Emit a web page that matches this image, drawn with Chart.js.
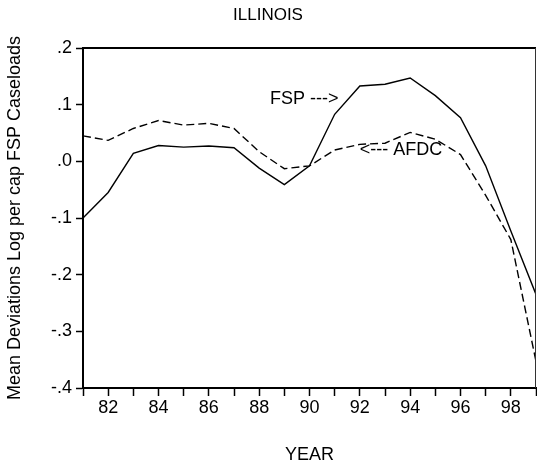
<!DOCTYPE html>
<html>
<head>
<meta charset="utf-8">
<script src="https://cdn.jsdelivr.net/npm/chart.js@4/dist/chart.umd.min.js"></script>
<style>
  html, body { margin: 0; padding: 0; background: #fff; }
  #wrap { width: 537px; height: 472px; }
</style>
</head>
<body>
<div id="wrap"><canvas id="c" width="537" height="472"></canvas></div>
<script>
const chartTitle = 'ILLINOIS';
const xTitle = 'YEAR';
const yTitle = 'Mean Deviations Log per cap FSP Caseloads';
const years = [81, 82, 83, 84, 85, 86, 87, 88, 89, 90, 91, 92, 93, 94, 95, 96, 97, 98, 99];
const fsp  = [-0.100, -0.055, 0.014, 0.028, 0.025, 0.027, 0.024, -0.012, -0.041, -0.008, 0.083, 0.133, 0.136, 0.147, 0.116, 0.077, -0.008, -0.123, -0.235];
const afdc = [0.045, 0.037, 0.058, 0.072, 0.064, 0.067, 0.058, 0.017, -0.013, -0.008, 0.020, 0.030, 0.032, 0.051, 0.039, 0.012, -0.060, -0.138, -0.353];
const annotLabels = ['FSP --->', '<--- AFDC'];
const annotX = [88.43, 92.0];
const annotY = [0.110, 0.020];

const FONT = 'Liberation Sans, Arial, Helvetica, sans-serif';

const framePlugin = {
  id: 'frame',
  afterDatasetsDraw(chart) {
    const {ctx, chartArea: a} = chart;
    ctx.save();
    ctx.strokeStyle = '#000';
    ctx.lineWidth = 2;
    ctx.beginPath();
    ctx.moveTo(a.left, a.top);
    ctx.lineTo(a.right, a.top);
    ctx.stroke();
    ctx.lineWidth = 1;
    ctx.strokeStyle = '#333';
    ctx.beginPath();
    ctx.moveTo(a.right - 0.5, a.top);
    ctx.lineTo(a.right - 0.5, a.bottom);
    ctx.stroke();
    // annotations
    const xs = chart.scales.x, ys = chart.scales.y;
    ctx.fillStyle = '#000';
    ctx.font = '18px ' + FONT;
    ctx.textAlign = 'left';
    ctx.textBaseline = 'middle';
    annotLabels.forEach((t, i) => {
      ctx.fillText(t, xs.getPixelForValue(annotX[i]), ys.getPixelForValue(annotY[i]));
    });
    ctx.restore();
  }
};

new Chart(document.getElementById('c'), {
  type: 'line',
  data: {
    datasets: [
      {
        label: 'FSP',
        data: years.map((y, i) => ({x: y, y: fsp[i]})),
        borderColor: '#000',
        borderWidth: 1.4,
        pointRadius: 0,
        tension: 0,
        fill: false
      },
      {
        label: 'AFDC',
        data: years.map((y, i) => ({x: y, y: afdc[i]})),
        borderColor: '#000',
        borderWidth: 1.4,
        borderDash: [8, 4],
        pointRadius: 0,
        tension: 0,
        fill: false
      }
    ]
  },
  options: {
    responsive: false,
    animation: false,
    devicePixelRatio: 1,
    layout: { padding: { left: 0, right: 1, top: 0, bottom: 0 } },
    plugins: {
      legend: { display: false },
      tooltip: { enabled: false },
      title: {
        display: true,
        text: chartTitle,
        color: '#000',
        font: { family: FONT, size: 17, weight: 'normal' },
        padding: { top: 5, bottom: 22.6 }
      }
    },
    scales: {
      x: {
        type: 'linear',
        min: 81,
        max: 99,
        afterFit(s) { s.height = 84; },
        border: { display: true, color: '#000', width: 2 },
        grid: { drawOnChartArea: false, drawTicks: true, tickLength: 8, tickColor: '#000', tickWidth: 1.5 },
        ticks: {
          stepSize: 1,
          autoSkip: false,
          maxRotation: 0,
          padding: 1,
          color: '#000',
          font: { family: FONT, size: 18 },
          callback: (v) => (v % 2 === 0 ? String(v) : '')
        },
        title: {
          display: true,
          text: xTitle,
          color: '#000',
          font: { family: FONT, size: 18 },
          padding: { top: 0, bottom: 6 }
        }
      },
      y: {
        type: 'linear',
        min: -0.4,
        max: 0.2,
        afterFit(s) { s.width = 83; },
        border: { display: true, color: '#000', width: 2 },
        grid: { drawOnChartArea: false, drawTicks: true, tickLength: 7, tickColor: '#000', tickWidth: 1.5 },
        ticks: {
          stepSize: 0.1,
          padding: 4,
          color: '#000',
          font: { family: FONT, size: 18 },
          callback: (v) => {
            const r = Math.round(v * 10) / 10;
            const s = r.toFixed(1);
            return s.replace(/^(-?)0\./, '$1.');
          }
        },
        title: {
          display: true,
          text: yTitle,
          color: '#000',
          font: { family: FONT, size: 18 },
          padding: { top: 4, bottom: 0 }
        }
      }
    }
  },
  plugins: [framePlugin]
});
</script>
</body>
</html>
